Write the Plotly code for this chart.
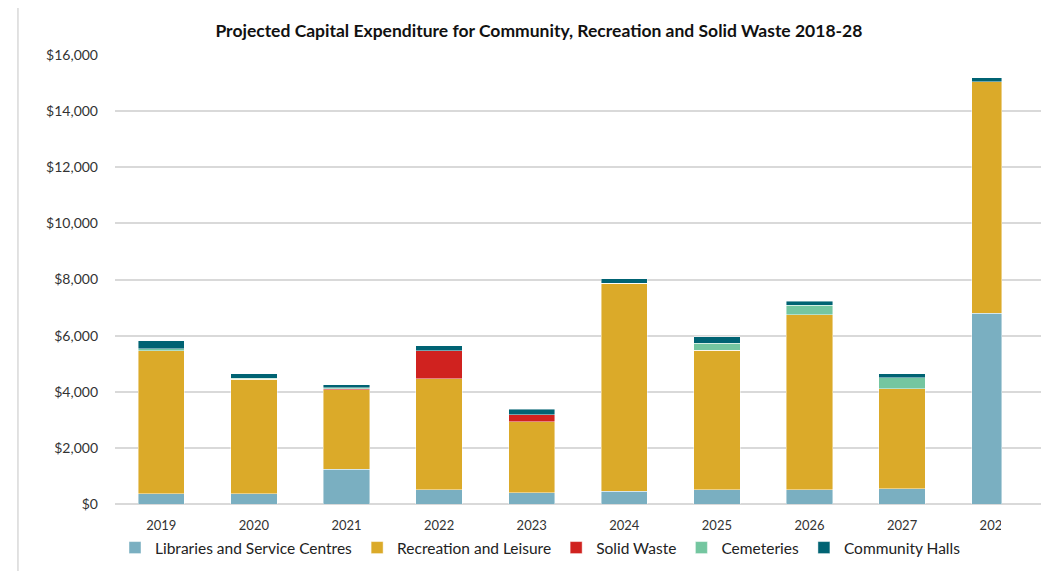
import plotly.graph_objects as go

# Years shown on the x axis
years = ["2019", "2020", "2021", "2022", "2023", "2024", "2025", "2026", "2027", "2028"]

# Capital expenditure ($000) by category
libraries = [360, 360, 1240, 500, 400, 450, 500, 500, 550, 6800]
recreation = [5105, 4085, 2825, 3955, 2535, 7420, 4980, 6240, 3550, 8245]
solid_waste = [0, 0, 35, 1010, 240, 0, 0, 0, 0, 0]
cemeteries = [60, 45, 50, 0, 0, 0, 250, 345, 405, 0]
community_halls = [285, 155, 105, 170, 205, 150, 235, 140, 140, 145]

series = [
    ("Libraries and Service Centres", libraries, "#7aafc1"),
    ("Recreation and Leisure", recreation, "#dbaa29"),
    ("Solid Waste", solid_waste, "#d0221f"),
    ("Cemeteries", cemeteries, "#74c6a0"),
    ("Community Halls", community_halls, "#006373"),
]

# the last column is cut off by the edge of the chart container
bar_widths = [0.5] * 9 + [0.325]

fig = go.Figure()
for name, values, colour in series:
    fig.add_trace(go.Bar(
        x=years,
        y=values,
        name=name,
        marker_color=colour,
        marker_line=dict(color="rgba(255,255,255,0.55)", width=0.8),
        width=bar_widths,
        offset=-0.25,
    ))

font_family = "Lato, 'Open Sans', sans-serif"

# page body keeps its default 8px margin, so the figure starts 8px in;
# extra height at the bottom leaves the legend room without squeezing the plot
fig.update_layout(
    barmode="stack",
    width=1041,
    height=600,
    margin=dict(l=107, r=8, t=47, b=104),
    plot_bgcolor="white",
    paper_bgcolor="white",
    font=dict(family=font_family, size=13, color="#333333"),
    title=dict(
        text="<b>Projected Capital Expenditure for Community, Recreation and Solid Waste 2018-28</b>",
        x=0.51, xanchor="center", y=1 - 23 / 600, yanchor="middle",
        font=dict(size=17.5, color="#111111"),
    ),
    xaxis=dict(
        range=[-0.5, 9.5],
        showgrid=False,
        tickfont=dict(size=13, color="#333333"),
        ticks="",
        ticklabelstandoff=12,
    ),
    yaxis=dict(
        range=[0, 16000],
        dtick=2000,
        tickprefix="$",
        tickformat=",",
        gridcolor="#d9d9d9",
        gridwidth=1.5,
        zeroline=True,
        zerolinecolor="#d9d9d9",
        zerolinewidth=1.5,
        ticks="",
        ticklabelstandoff=16,
        tickfont=dict(size=14, color="#333333"),
    ),
    legend=dict(
        orientation="h",
        x=0.0, xanchor="left",
        y=-0.098, yanchor="middle",
        font=dict(size=15.5, color="#222222"),
        traceorder="normal",
        itemwidth=30,
    ),
    shapes=[
        # chart container border (left and top edges)
        dict(type="line", xref="paper", yref="paper",
             x0=-0.1048, x1=-0.1048, y0=1.111, y1=-0.22,
             line=dict(color="#d9d9d9", width=1.5)),
        dict(type="line", xref="paper", yref="paper",
             x0=-0.1048, x1=0.9557, y0=1.111, y1=1.111,
             line=dict(color="#d9d9d9", width=1.5)),
        # clip of the container over the last tick label
        dict(type="rect", xref="paper", yref="paper",
             x0=0.9568, x1=1.01, y0=-0.012, y1=-0.07,
             fillcolor="white", line=dict(width=0), layer="above"),
    ],
)

fig.write_html("out.html")
